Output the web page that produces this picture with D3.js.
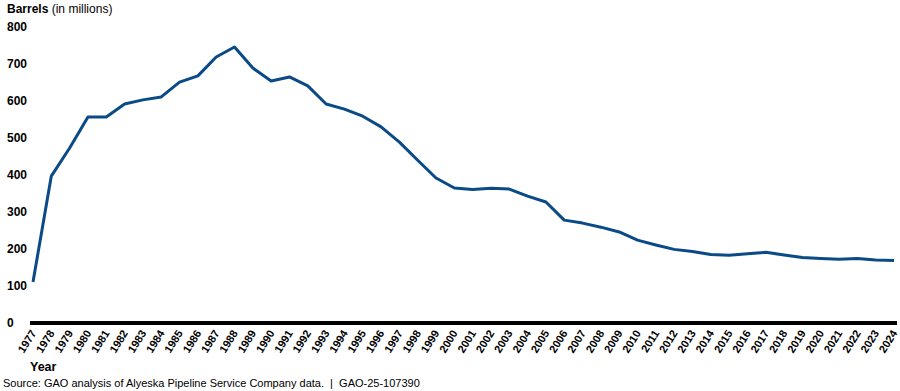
<!DOCTYPE html>
<html><head><meta charset="utf-8">
<script src="https://cdn.jsdelivr.net/npm/d3@7"></script>
<style>body{margin:0;background:#fff}svg{display:block;font-family:"Liberation Sans",Arial,sans-serif}</style>
</head><body><svg id="c" width="900" height="391"></svg>
<script>
const years = d3.range(1977, 2025);
const barrels = [111,397,473,557,557,592,603,611,651,668,719,746,689,654,665,641,592,578,559,530,489,440,392,365,361,364,362,343,327,278,270,259,246,224,211,199,193,185,183,187,191,184,177,174,172,174,170,169];
const yTicks = [0,100,200,300,400,500,600,700,800];

const svg = d3.select("#c");
const x = d3.scalePoint().domain(years).range([33, 894]);
const y = d3.scaleLinear().domain([0, 800]).range([323, 27]);

// y labels
svg.append("g").selectAll("text").data(yTicks).join("text")
  .attr("x", 7).attr("y", d => y(d)).attr("dy", "0.35em")
  .attr("font-size", 12).attr("font-weight", "bold").attr("fill", "#000")
  .text(d => d);

// title
const t = svg.append("text").attr("x", 7).attr("y", 13).attr("font-size", 12).attr("fill", "#000");
t.append("tspan").attr("font-weight", "bold").text("Barrels");
t.append("tspan").text(" (in millions)");

// line
svg.append("path").datum(years.map((yr, i) => [yr, barrels[i]]))
  .attr("fill", "none").attr("stroke", "#0a4a87").attr("stroke-width", 3)
  .attr("stroke-linejoin", "round")
  .attr("d", d3.line().x(d => x(d[0])).y(d => y(d[1])));

// x axis
const xa = svg.append("g").attr("transform", `translate(0,${y(0)})`)
  .call(d3.axisBottom(x).tickSize(0).tickPadding(0));
xa.select(".domain").attr("stroke", "#000").attr("stroke-width", 4).attr("d", "M30,0H897");
xa.selectAll("text").attr("font-size", 11).attr("font-weight", "bold").attr("fill", "#000")
  .attr("font-family", '"Liberation Sans",Arial,sans-serif')
  .attr("text-anchor", "end").attr("dy", "0.35em")
  .attr("transform", "translate(0,8) rotate(-58)");

svg.append("text").attr("x", 30).attr("y", 371).attr("font-size", 12.5).attr("font-weight", "bold").text("Year");
svg.append("text").attr("x", 3).attr("y", 387).attr("font-size", 11).attr("fill", "#000")
  .style("white-space", "pre")
  .text("Source: GAO analysis of Alyeska Pipeline Service Company data.  |  GAO-25-107390");
</script></body></html>
